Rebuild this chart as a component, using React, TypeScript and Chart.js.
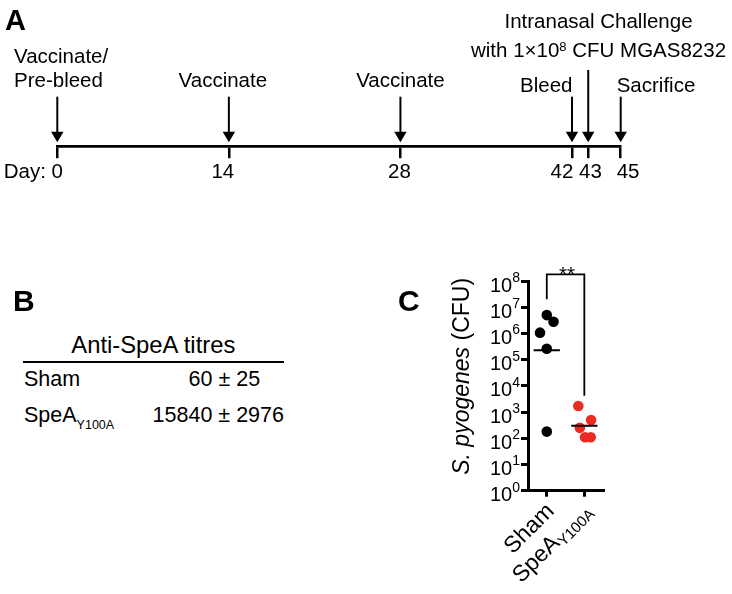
import React, { useEffect, useRef } from 'react';
import { Chart, registerables } from 'chart.js';

Chart.register(...registerables);

const FONT = '"Liberation Sans", Arial, Helvetica, sans-serif';
const SUP = '⁰¹²³⁴⁵⁶⁷⁸⁹';

// ---------- Panel A: timeline ----------
const timelineDays = [0, 14, 28, 42, 43, 45];
const timelineEvents = [
  ['Vaccinate/', 'Pre-bleed'],
  ['Vaccinate'],
  ['Vaccinate'],
  ['Bleed'],
  ['Intranasal Challenge', 'with 1×10⁸ CFU MGAS8232'],
  ['Sacrifice'],
];
const dayAxisPrefix = 'Day: ';

// ---------- Panel B: titres ----------
const titreHeader = 'Anti-SpeA titres';
const titreGroups = ['Sham', 'SpeA'];
const titreGroupSubs = ['', 'Y100A'];
const titreMeans = [60, 15840];
const titreErrors = [25, 2976];

// ---------- Panel C: CFU ----------
const cfuGroups = ['Sham', 'SpeA'];
const cfuGroupSubs = ['', 'Y100A'];
const shamCFU = [5.0e6, 2.8e6, 1.07e6, 2.6e5, 1.8e2];
const shamJitter = [0, 0.18, -0.18, 0, 0];
const speaCFU = [1.7e3, 5.0e2, 2.5e2, 1.1e2, 1.1e2];
const speaJitter = [-0.16, 0.18, -0.12, 0.02, 0.17];
const cfuGeoMeans = [2.3e5, 3.0e2];
const cfuTickExponents = [0, 1, 2, 3, 4, 5, 6, 7, 8];
const sigLabel = '**';
const sigBracket = [2.0e7, 1.8e8, 4.2e3]; // left leg end, top, right leg end
const yTitleParts: [string, boolean][] = [['S. pyogenes', true], [' (CFU)', false]];

// schematic (non-linear) spacing of the last days on the timeline
const warpDay = (d: number) => (d <= 42 ? d : 42 + (d - 42) * 1.325);

function drawRich(ctx: CanvasRenderingContext2D, text: string, x: number, y: number, align: string, size: number, supSize: number, raise: number) {
  const runs: { t: string; sup: boolean; w: number }[] = [];
  for (const ch of text) {
    const si = SUP.indexOf(ch);
    const isSup = si >= 0;
    const c = isSup ? String(si) : ch;
    const last = runs[runs.length - 1];
    if (last && last.sup === isSup) last.t += c;
    else runs.push({ t: c, sup: isSup, w: 0 });
  }
  let total = 0;
  runs.forEach((r) => {
    ctx.font = `${r.sup ? supSize : size}px ${FONT}`;
    r.w = ctx.measureText(r.t).width;
    total += r.w;
  });
  let cx = align === 'left' ? x : align === 'right' ? x - total : x - total / 2;
  ctx.textAlign = 'left';
  ctx.textBaseline = 'alphabetic';
  runs.forEach((r) => {
    ctx.font = `${r.sup ? supSize : size}px ${FONT}`;
    ctx.fillText(r.t, cx, r.sup ? y - raise : y);
    cx += r.w;
  });
}

const TL_FONT = 20.5;
const eventLabelStyle = [
  { align: 'left', dx: -43.3, baselines: [63, 87.3], arrowTop: 96.7 },
  { align: 'center', dx: -6, baselines: [87.3], arrowTop: 96.7 },
  { align: 'center', dx: 0, baselines: [87.3], arrowTop: 96.7 },
  { align: 'right', dx: 0.5, baselines: [91.7], arrowTop: 96.7 },
  { align: 'center', dx: 10.3, baselines: [28.3, 57.3], arrowTop: 70 },
  { align: 'left', dx: -4, baselines: [91.7], arrowTop: 96.7 },
];
const dayLabelStyle = [
  { align: 'center', dx: 0 },
  { align: 'center', dx: -6 },
  { align: 'center', dx: -1 },
  { align: 'right', dx: 1.3 },
  { align: 'center', dx: 2.3 },
  { align: 'left', dx: -4 },
];

const timelinePlugin = {
  id: 'timelineLabels',
  afterDraw(chart: any) {
    const ctx: CanvasRenderingContext2D = chart.ctx;
    const xs = chart.scales.x;
    const axisY = xs.top;
    ctx.save();
    ctx.fillStyle = '#000';
    ctx.strokeStyle = '#000';
    timelineDays.forEach((d, i) => {
      const x = xs.getPixelForValue(warpDay(d));
      const st = eventLabelStyle[i];
      // arrow
      ctx.lineWidth = 2;
      ctx.beginPath();
      ctx.moveTo(x, st.arrowTop);
      ctx.lineTo(x, axisY - 13);
      ctx.stroke();
      ctx.beginPath();
      ctx.moveTo(x - 6.2, axisY - 15);
      ctx.lineTo(x + 6.2, axisY - 15);
      ctx.lineTo(x, axisY - 4.5);
      ctx.closePath();
      ctx.fill();
      // event text
      timelineEvents[i].forEach((line, k) => {
        drawRich(ctx, line, x + st.dx, st.baselines[k], st.align, TL_FONT, 13, 6.5);
      });
      // day label
      const ds = dayLabelStyle[i];
      ctx.font = `${TL_FONT}px ${FONT}`;
      const txt = String(d);
      const ty = axisY + 30.8;
      if (i === 0) {
        const w0 = ctx.measureText(txt).width;
        drawRich(ctx, dayAxisPrefix + txt, x + w0 / 2, ty, 'right', TL_FONT, 13, 6.5);
      } else {
        drawRich(ctx, txt, x + ds.dx, ty, ds.align, TL_FONT, 13, 6.5);
      }
    });
    ctx.restore();
  },
};

const timelineConfig = (): any => ({
  type: 'scatter',
  data: { datasets: [{ data: timelineDays.map((d) => ({ x: warpDay(d), y: 0 })), pointRadius: 0 }] },
  options: {
    responsive: false,
    animation: false,
    events: [],
    layout: { padding: { left: 57.3, right: 732 - 620.7, top: 0, bottom: 0 } },
    plugins: { legend: { display: false }, tooltip: { enabled: false } },
    scales: {
      x: {
        type: 'linear',
        min: 0,
        max: warpDay(45),
        afterBuildTicks: (s: any) => {
          s.ticks = timelineDays.map((d) => ({ value: warpDay(d) }));
        },
        afterFit: (s: any) => {
          s.height = 200 - 146.7;
        },
        border: { display: true, color: '#000', width: 2.7 },
        grid: { display: true, drawOnChartArea: false, drawTicks: true, tickLength: 11.5, lineWidth: 2.5, color: '#000' },
        ticks: { display: false },
      },
      y: { display: false, min: 0, max: 1 },
    },
  },
  plugins: [timelinePlugin],
});

const MEAN_HALF = 0.35;

const cfuPlugin = {
  id: 'cfuText',
  afterDraw(chart: any) {
    const ctx: CanvasRenderingContext2D = chart.ctx;
    const { chartArea } = chart;
    const xs = chart.scales.x;
    const ys = chart.scales.y;
    ctx.save();
    ctx.fillStyle = '#000';
    // y tick labels
    ys.ticks.forEach((t: any, i: number) => {
      const y = ys.getPixelForTick(i);
      const e = Math.round(Math.log10(t.value));
      drawRich(ctx, '10' + SUP[e], chartArea.left - 8, y + 10.5, 'right', 20, 14, 9.5);
    });
    // y title (rotated, mixed italic)
    ctx.save();
    ctx.translate(chartArea.left - 59, (chartArea.top + chartArea.bottom) / 2 - 9.5);
    ctx.rotate(-Math.PI / 2);
    ctx.textAlign = 'left';
    ctx.textBaseline = 'alphabetic';
    let total = 0;
    const widths = yTitleParts.map(([t, it]) => {
      ctx.font = `${it ? 'italic ' : ''}23px ${FONT}`;
      const w = ctx.measureText(t).width;
      total += w;
      return w;
    });
    let cx = -total / 2;
    yTitleParts.forEach(([t, it], k) => {
      ctx.font = `${it ? 'italic ' : ''}23px ${FONT}`;
      ctx.fillText(t, cx, 0);
      cx += widths[k];
    });
    ctx.restore();
    // x tick labels (rotated 45 deg, with subscripts)
    cfuGroups.forEach((g, i) => {
      const x = xs.getPixelForTick(i);
      const sub = cfuGroupSubs[i];
      ctx.save();
      ctx.translate(x + 4, chartArea.bottom + 17);
      ctx.rotate(-Math.PI / 4);
      ctx.textAlign = 'left';
      ctx.textBaseline = 'middle';
      ctx.font = `23px ${FONT}`;
      const wm = ctx.measureText(g).width;
      ctx.font = `15px ${FONT}`;
      const ws = sub ? ctx.measureText(sub).width : 0;
      ctx.font = `23px ${FONT}`;
      ctx.fillText(g, -(wm + ws), 0);
      if (sub) {
        ctx.font = `15px ${FONT}`;
        ctx.fillText(sub, -ws, 6);
      }
      ctx.restore();
    });
    // significance stars
    const sx = (xs.getPixelForValue(1) + xs.getPixelForValue(2)) / 2;
    const sy = ys.getPixelForValue(sigBracket[1]);
    ctx.font = `20.5px ${FONT}`;
    ctx.textAlign = 'center';
    ctx.textBaseline = 'alphabetic';
    ctx.fillText(sigLabel, sx + 1.5, sy + 6.5);
    ctx.restore();
  },
};

const cfuConfig = (): any => ({
  type: 'scatter',
  data: {
    datasets: [
      {
        type: 'line',
        data: [
          { x: 1 - MEAN_HALF, y: cfuGeoMeans[0] },
          { x: 1 + MEAN_HALF, y: cfuGeoMeans[0] },
        ],
        borderColor: '#000',
        borderWidth: 2,
        pointRadius: 0,
      },
      {
        type: 'line',
        data: [
          { x: 2 - MEAN_HALF, y: cfuGeoMeans[1] },
          { x: 2 + MEAN_HALF, y: cfuGeoMeans[1] },
        ],
        borderColor: '#000',
        borderWidth: 2,
        pointRadius: 0,
      },
      {
        type: 'line',
        data: [
          { x: 1, y: sigBracket[0] },
          { x: 1, y: sigBracket[1] },
          { x: 2, y: sigBracket[1] },
          { x: 2, y: sigBracket[2] },
        ],
        borderColor: '#000',
        borderWidth: 1.8,
        borderJoinStyle: 'miter',
        pointRadius: 0,
        clip: false,
      },
      {
        data: shamCFU.map((v, i) => ({ x: 1 + shamJitter[i], y: v })),
        backgroundColor: '#000',
        borderWidth: 0,
        pointRadius: 5.3,
      },
      {
        data: speaCFU.map((v, i) => ({ x: 2 + speaJitter[i], y: v })),
        backgroundColor: '#ec2a24',
        borderWidth: 0,
        pointRadius: 5.3,
      },
    ],
  },
  options: {
    responsive: false,
    animation: false,
    events: [],
    layout: { padding: { left: 0, top: 51, right: 352 - 223.1, bottom: 0 } },
    plugins: { legend: { display: false }, tooltip: { enabled: false } },
    scales: {
      x: {
        type: 'linear',
        min: 0.5,
        max: 2.5,
        afterBuildTicks: (s: any) => {
          s.ticks = cfuGroups.map((_, i) => ({ value: i + 1 }));
        },
        afterFit: (s: any) => {
          s.height = 364 - 260.7;
        },
        border: { display: true, color: '#000', width: 3 },
        grid: { display: true, drawOnChartArea: false, drawTicks: true, tickLength: 6, lineWidth: 3, color: '#000' },
        ticks: { display: false },
      },
      y: {
        type: 'logarithmic',
        min: 1,
        max: 1e8,
        afterBuildTicks: (s: any) => {
          s.ticks = cfuTickExponents.map((e) => ({ value: Math.pow(10, e) }));
        },
        afterFit: (s: any) => {
          s.width = 148;
        },
        border: { display: true, color: '#000', width: 3 },
        grid: { display: true, drawOnChartArea: false, drawTicks: true, tickLength: 7, lineWidth: 3, color: '#000' },
        ticks: { display: false },
      },
    },
  },
  plugins: [cfuPlugin],
});

const abs = (extra: React.CSSProperties): React.CSSProperties => ({
  position: 'absolute',
  whiteSpace: 'nowrap',
  lineHeight: 1,
  ...extra,
});

export default function App() {
  const aRef = useRef<HTMLCanvasElement>(null);
  const cRef = useRef<HTMLCanvasElement>(null);
  useEffect(() => {
    const a = new Chart(aRef.current as HTMLCanvasElement, timelineConfig());
    const c = new Chart(cRef.current as HTMLCanvasElement, cfuConfig());
    return () => {
      a.destroy();
      c.destroy();
    };
  }, []);

  const rowTops = [368.5, 405.1];
  const valueCenters = [224.3, 218.3];

  return (
    <div
      style={{
        position: 'absolute',
        left: 0,
        top: 0,
        width: 732,
        height: 594,
        background: '#fff',
        fontFamily: FONT,
        color: '#000',
        overflow: 'hidden',
      }}
    >
      <canvas ref={aRef} width={732} height={200} style={{ position: 'absolute', left: 0, top: 0 }} />
      <canvas ref={cRef} width={352} height={364} style={{ position: 'absolute', left: 380, top: 230 }} />

      <div style={abs({ left: 5, top: 6.2, fontSize: 29, fontWeight: 'bold' })}>A</div>
      <div style={abs({ left: 13, top: 286, fontSize: 30, fontWeight: 'bold' })}>B</div>
      <div style={abs({ left: 398, top: 286, fontSize: 30, fontWeight: 'bold' })}>C</div>

      <div style={abs({ left: 153.3, top: 333.2, fontSize: 23.8, transform: 'translateX(-50%)' })}>{titreHeader}</div>
      <div style={{ position: 'absolute', left: 23, top: 360.5, width: 261, height: 2.5, background: '#000' }} />
      {titreGroups.map((g, i) => (
        <React.Fragment key={g}>
          <div style={abs({ left: 24, top: rowTops[i], fontSize: 21.5 })}>
            {g}
            {titreGroupSubs[i] ? (
              <span style={{ fontSize: 12.5, position: 'relative', top: 6.5 }}>{titreGroupSubs[i]}</span>
            ) : null}
          </div>
          <div style={abs({ left: valueCenters[i], top: rowTops[i], fontSize: 21.5, transform: 'translateX(-50%)' })}>
            {`${titreMeans[i]} ± ${titreErrors[i]}`}
          </div>
        </React.Fragment>
      ))}
    </div>
  );
}
